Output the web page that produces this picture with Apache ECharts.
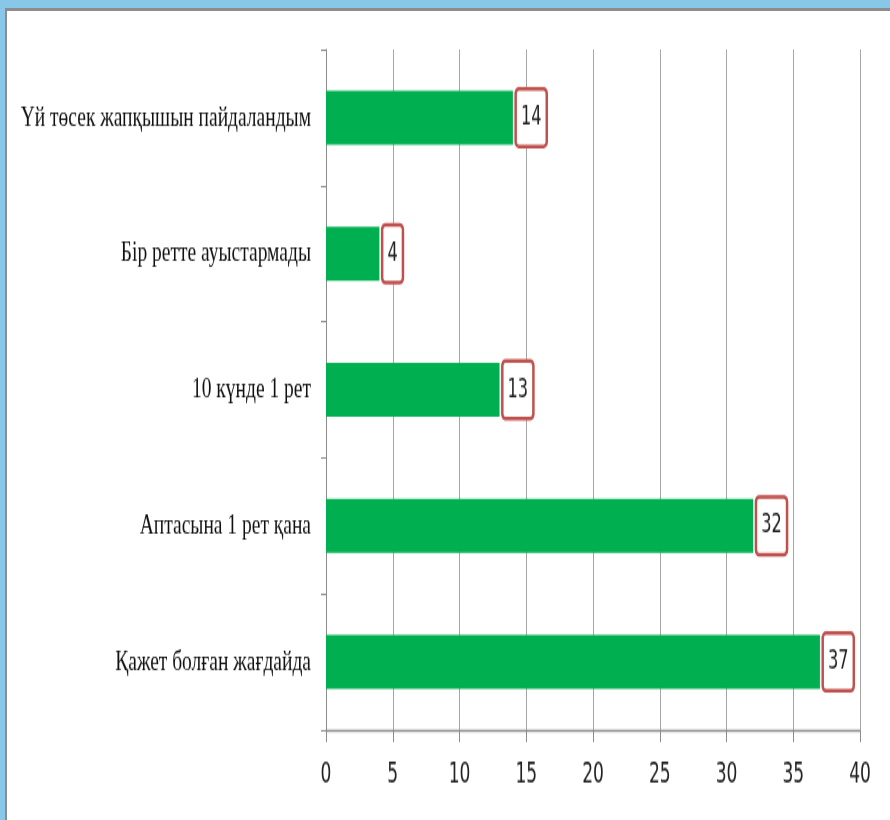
<!DOCTYPE html>
<html>
<head>
<meta charset="utf-8">
<script src="https://cdn.jsdelivr.net/npm/echarts@6/dist/echarts.min.js"></script>
<style>
  html, body { margin: 0; padding: 0; background: #88c7e7; overflow: hidden; }
  #frame { position: absolute; left: 5px; top: 8px; width: 885px; height: 812px;
           background: #fff; border-left: 2px solid #8c8c8c; border-top: 3px solid #8c8c8c;
           box-sizing: border-box; }
  /* the reference picture is stretched vertically, so the chart is drawn shorter and stretched the same way */
  #chart { position: absolute; left: 0; top: 0; width: 890px; height: 547px;
           transform: scaleY(1.4991); transform-origin: 0 0; }
</style>
</head>
<body>
<div id="frame"></div>
<div id="chart"></div>
<script>
// категориялар мен мәндер
var categories = ['Үй төсек жапқышын пайдаландым', 'Бір ретте ауыстармады', '10 күнде 1 рет', 'Аптасына 1 рет қана', 'Қажет болған жағдайда'];
var values = [14, 4, 13, 32, 37];
var axisMin = 0;
var axisMax = 40;
var axisStep = 5;

var chart = echarts.init(document.getElementById('chart'));

var option = {
  backgroundColor: 'transparent',
  animation: false,
  grid: { left: 326, right: 30, top: 33, bottom: 60, containLabel: false, outerBoundsMode: 'none' },
  xAxis: {
    type: 'value',
    min: axisMin,
    max: axisMax,
    interval: axisStep,
    axisLine: { show: true, lineStyle: { color: '#8c8c8c', width: 1.4 } },
    axisTick: { show: true, length: 8, lineStyle: { color: '#8c8c8c' } },
    splitLine: { show: true, lineStyle: { color: '#a6a6a6', width: 1 } },
    axisLabel: { margin: 21, fontSize: 19, color: '#222', fontFamily: 'DejaVu Sans Condensed, sans-serif' }
  },
  yAxis: {
    type: 'category',
    inverse: true,
    data: categories,
    axisLine: { show: true, lineStyle: { color: '#8c8c8c', width: 1 } },
    axisTick: { show: true, length: 5, lineStyle: { color: '#8c8c8c' } },
    axisLabel: { margin: 15, fontSize: 19.5, color: '#111', fontFamily: 'Liberation Serif, serif' }
  },
  series: [{
    type: 'bar',
    data: values,
    barWidth: 36,
    itemStyle: { color: '#00b050' },
    label: {
      show: true,
      position: 'right',
      distance: 4,
      fontSize: 18,
      lineHeight: 18,
      color: '#222',
      fontFamily: 'DejaVu Sans Condensed, sans-serif',
      backgroundColor: '#fff',
      borderColor: '#c0504d',
      borderWidth: 2.5,
      borderRadius: 2,
      padding: [9, 4]
    }
  }]
};

chart.setOption(option);
</script>
</body>
</html>
